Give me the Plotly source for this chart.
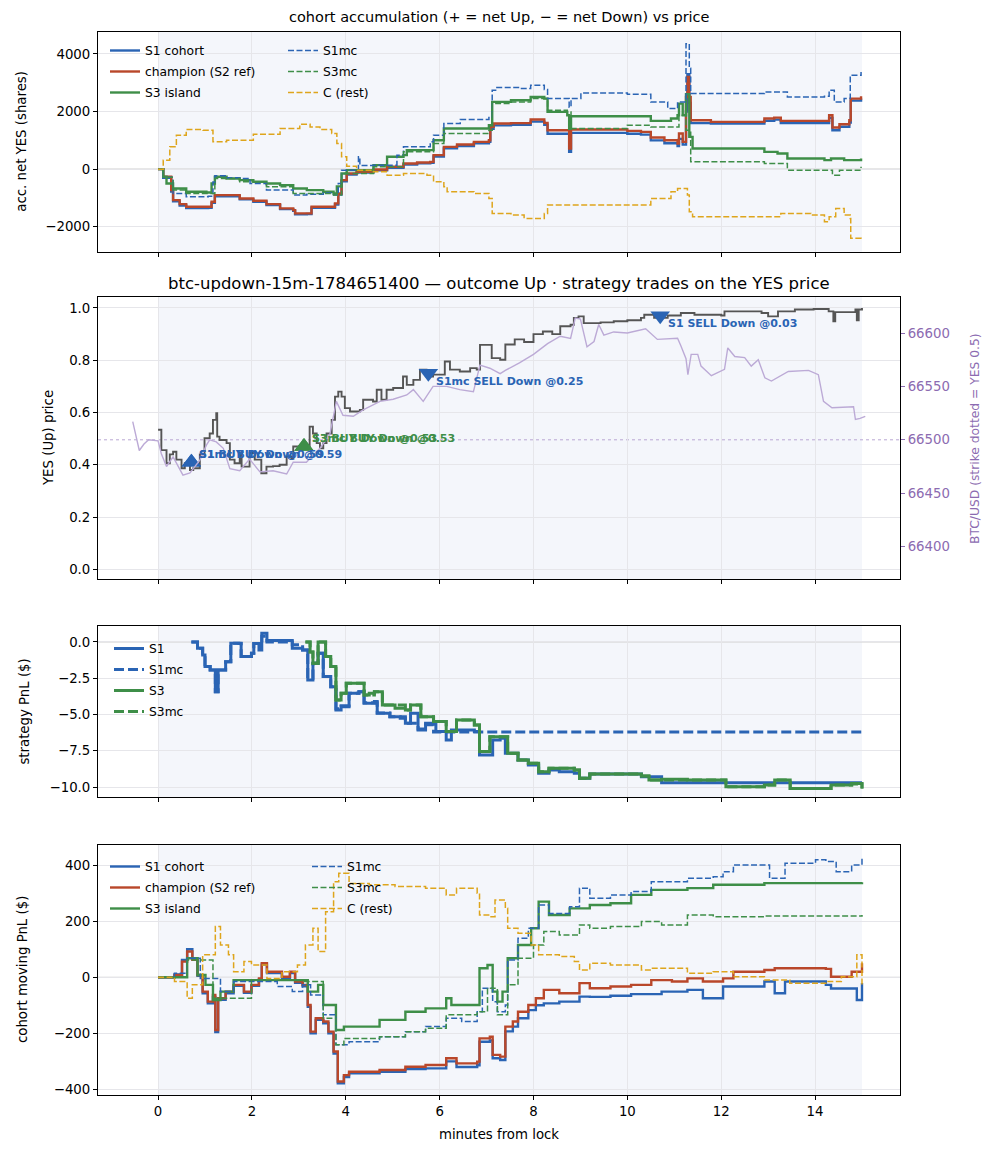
import plotly.graph_objects as go

# ---------------- data (minutes from lock, value) ----------------
# panel 1: accumulated net YES shares
acc_s1 = [(0, 0), (0.11, -300), (0.28, -780), (0.32, -1120), (0.46, -1260), (0.6, -1350), (1.07, -1340),
          (1.14, -1170), (1.21, -940), (1.46, -940), (1.74, -1050), (2.03, -1130), (2.31, -1250), (2.6, -1390),
          (2.88, -1450), (2.92, -1570), (3.17, -1560), (3.27, -1340), (3.52, -1340), (3.77, -1230), (3.84, -880),
          (3.91, -420), (4.02, -190), (4.23, -120), (4.59, -40), (4.88, 50), (5.23, 160), (5.52, 200), (5.8, 220),
          (5.87, 440), (6.09, 720), (6.37, 800), (6.73, 900), (7.05, 950), (7.08, 1400), (7.15, 1520), (7.52, 1540),
          (7.94, 1650), (8.23, 1540), (8.3, 1230), (8.72, 1230), (8.76, 600), (8.8, 1260), (10.0, 1230),
          (10.29, 1200), (10.5, 1000), (10.79, 900), (11.07, 800), (11.1, 1050), (11.18, 850), (11.25, 2000),
          (11.28, 3300), (11.32, 2300), (11.35, 1600), (11.78, 1580), (12.92, 1680), (13.13, 1720), (13.27, 1600),
          (14.2, 1600), (14.3, 1780), (14.37, 1350), (14.52, 1470), (14.73, 1620), (14.76, 2380), (14.98, 2450)]
acc_champion = [(0, 0), (0.11, -266), (0.28, -728), (0.32, -1075), (0.46, -1214), (0.6, -1306), (1.07, -1306),
                (1.14, -1133), (1.21, -902), (1.46, -902), (1.74, -1017), (2.03, -1098), (2.31, -1214),
                (2.6, -1364), (2.88, -1422), (2.92, -1537), (3.17, -1537), (3.27, -1306), (3.52, -1306),
                (3.77, -1190), (3.84, -844), (3.91, -381), (4.02, -150), (4.23, -92), (4.59, -12), (4.88, 81),
                (5.23, 197), (5.52, 231), (5.8, 254), (5.87, 486), (6.09, 775), (6.37, 855), (6.73, 948),
                (7.05, 1006), (7.08, 1468), (7.15, 1584), (7.52, 1600), (7.94, 1722), (8.23, 1607), (8.3, 1352),
                (8.72, 1352), (8.76, 717), (8.8, 1375), (10.0, 1329), (10.29, 1295), (10.5, 1098), (10.79, 1006),
                (11.07, 890), (11.1, 1237), (11.18, 948), (11.25, 2508), (11.28, 3202), (11.32, 2508),
                (11.35, 1700), (11.78, 1641), (12.92, 1757), (13.13, 1791), (13.27, 1676), (14.2, 1676),
                (14.3, 1873), (14.37, 1445), (14.52, 1560), (14.73, 1700), (14.76, 2450), (14.98, 2530)]
acc_s3 = [(0, 0), (0.11, -266), (0.18, -497), (0.32, -670), (0.6, -786), (1.03, -809), (1.14, -497),
          (1.21, -266), (1.46, -324), (1.74, -381), (2.03, -439), (2.31, -497), (2.6, -555), (2.88, -670),
          (3.17, -728), (3.52, -786), (3.74, -844), (3.81, -600), (3.91, -150), (4.02, -35), (4.59, 139),
          (4.88, 428), (5.23, 486), (5.3, 659), (5.87, 1006), (6.09, 1410), (7.05, 1526), (7.12, 2335),
          (7.52, 2393), (7.94, 2508), (8.23, 2450), (8.3, 1988), (8.72, 1873), (8.76, 1400), (8.8, 1838),
          (10.0, 1838), (10.5, 1676), (10.93, 1757), (11.07, 1873), (11.1, 2277), (11.18, 1873), (11.25, 2600),
          (11.32, 1121), (11.39, 717), (12.92, 601), (13.2, 543), (13.41, 370), (14.2, 312), (14.34, 370),
          (14.62, 312), (14.98, 370)]
acc_s1mc = [(0, 0), (0.11, -280), (0.32, -844), (0.6, -960), (1.07, -940), (1.17, -450), (1.21, -231),
            (1.46, -300), (1.74, -324), (1.96, -497), (2.31, -728), (2.88, -902), (3.17, -870), (3.52, -820),
            (3.74, -902), (3.84, -497), (3.91, -35), (4.27, 428), (4.3, 130), (4.59, 139), (5.09, 486),
            (5.23, 775), (5.8, 948), (5.87, 1180), (6.09, 1584), (6.44, 1722), (7.05, 1791), (7.12, 2740),
            (7.22, 2832), (7.72, 2797), (7.94, 2913), (8.23, 2763), (8.3, 2450), (8.72, 2450), (8.76, 2150),
            (8.8, 2450), (9.01, 2647), (10.0, 2600), (10.5, 2335), (10.86, 2104), (11.07, 2335), (11.25, 4358),
            (11.32, 3500), (11.35, 2624), (12.92, 2682), (13.41, 2508), (14.2, 2532), (14.3, 2740),
            (14.41, 2335), (14.62, 2450), (14.75, 3260), (14.98, 3375)]
acc_s3mc = [(0, 0), (0.11, -280), (0.32, -728), (0.6, -844), (1.03, -844), (1.21, -324), (1.74, -439),
            (2.31, -613), (2.88, -844), (3.17, -844), (3.74, -902), (3.91, -150), (4.59, 81), (5.23, 601),
            (5.87, 890), (6.09, 1237), (7.05, 1352), (7.12, 2277), (7.52, 2335), (7.94, 2450), (8.3, 2046),
            (8.72, 1988), (8.8, 1410), (10.0, 1526), (10.5, 1468), (11.07, 1468), (11.1, 1873), (11.25, 1352),
            (11.35, 254), (12.92, 197), (13.41, -35), (14.2, -35), (14.37, -208), (14.52, -35), (14.98, 81)]
acc_rest = [(0, 0), (0.11, 312), (0.25, 775), (0.39, 1179), (0.6, 1375), (0.96, 1352), (1.17, 948),
            (1.46, 1006), (2.03, 1214), (2.6, 1410), (3.02, 1560), (3.24, 1468), (3.45, 1375), (3.7, 1237),
            (3.81, 890), (3.91, 428), (4.02, 104), (4.23, -35), (4.59, -92), (4.88, -208), (5.23, -150),
            (5.73, -208), (5.87, -439), (6.09, -613), (6.16, -786), (6.73, -844), (7.05, -1017), (7.12, -1537),
            (7.52, -1595), (7.8, -1711), (8.23, -1537), (8.3, -1248), (10.0, -1248), (10.5, -1017),
            (10.93, -786), (11.07, -670), (11.28, -900), (11.32, -1480), (11.39, -1653), (12.92, -1653),
            (13.27, -1537), (13.91, -1595), (14.2, -1826), (14.3, -1653), (14.44, -1364), (14.62, -1595),
            (14.75, -1711), (14.76, -2404), (14.98, -2462)]

# panel 2: YES (Up) price and BTC/USD
yes_price = [(0, 0.534), (0.07, 0.456), (0.18, 0.406), (0.25, 0.44), (0.32, 0.45), (0.39, 0.42), (0.5, 0.387),
             (0.57, 0.406), (0.68, 0.38), (0.75, 0.387), (0.89, 0.44), (0.99, 0.502), (1.1, 0.52), (1.17, 0.572),
             (1.24, 0.597), (1.26, 0.508), (1.31, 0.495), (1.46, 0.483), (1.53, 0.42), (1.63, 0.406),
             (1.74, 0.445), (1.78, 0.393), (1.95, 0.445), (2.06, 0.42), (2.2, 0.368), (2.31, 0.393),
             (2.45, 0.395), (2.59, 0.40), (2.74, 0.432), (2.84, 0.425), (2.88, 0.47), (3.16, 0.47), (3.23, 0.546),
             (3.3, 0.52), (3.38, 0.483), (3.45, 0.463), (3.52, 0.483), (3.59, 0.52), (3.7, 0.572), (3.77, 0.661),
             (3.84, 0.68), (3.91, 0.661), (3.98, 0.617), (4.09, 0.604), (4.3, 0.61), (4.37, 0.649), (4.51, 0.649),
             (4.58, 0.642), (4.66, 0.687), (4.76, 0.649), (4.87, 0.687), (5.01, 0.694), (5.22, 0.738),
             (5.3, 0.706), (5.44, 0.725), (5.58, 0.764), (5.72, 0.738), (5.86, 0.745), (6.11, 0.795),
             (6.22, 0.764), (6.43, 0.757), (6.65, 0.77), (6.79, 0.764), (6.86, 0.859), (7.07, 0.859),
             (7.11, 0.808), (7.29, 0.802), (7.4, 0.86), (7.6, 0.88), (7.8, 0.87), (8.0, 0.9), (8.2, 0.91),
             (8.4, 0.9), (8.57, 0.93), (8.79, 0.936), (8.86, 0.962), (8.96, 0.968), (9.07, 0.942), (9.43, 0.945),
             (9.71, 0.949), (10.0, 0.953), (10.29, 0.962), (10.36, 0.974), (10.57, 0.962), (10.86, 0.971),
             (11.14, 0.981), (11.43, 0.974), (12.0, 0.971), (12.07, 0.987), (12.86, 0.981), (13.0, 0.968),
             (13.21, 0.987), (13.57, 0.994), (13.97, 0.996), (14.29, 0.987), (14.39, 0.949), (14.43, 0.984),
             (14.86, 0.994), (14.89, 0.953), (14.93, 0.994), (15.0, 1.0)]
btc_usd = [(-0.54, 66517), (-0.48, 66505), (-0.4, 66490), (-0.3, 66496), (-0.2, 66500), (0.0, 66499),
           (0.07, 66487), (0.18, 66475), (0.32, 66484), (0.53, 66467), (0.68, 66469), (0.89, 66481),
           (1.03, 66495), (1.1, 66500), (1.24, 66498), (1.39, 66492), (1.53, 66473), (1.74, 66471),
           (1.95, 66482), (2.17, 66470), (2.45, 66471), (2.74, 66468), (2.88, 66479), (3.16, 66479),
           (3.45, 66492), (3.66, 66505), (3.8, 66536), (3.94, 66523), (4.16, 66522), (4.37, 66528),
           (4.58, 66533), (4.73, 66536), (5.01, 66538), (5.3, 66542), (5.44, 66547), (5.65, 66536),
           (5.86, 66550), (6.15, 66550), (6.43, 66547), (6.72, 66545), (6.86, 66570), (7.07, 66567),
           (7.29, 66562), (7.4, 66565), (7.7, 66572), (8.0, 66580), (8.3, 66590), (8.57, 66597), (8.79, 66595),
           (8.89, 66614), (9.0, 66613), (9.07, 66599), (9.14, 66587), (9.29, 66592), (9.39, 66608), (9.5, 66598),
           (9.71, 66601), (10.0, 66600), (10.29, 66603), (10.39, 66604), (10.64, 66594), (11.07, 66595),
           (11.14, 66588), (11.25, 66576), (11.29, 66561), (11.36, 66580), (11.5, 66580), (11.57, 66569),
           (11.79, 66560), (12.07, 66566), (12.14, 66586), (12.29, 66578), (12.5, 66577), (12.64, 66569),
           (12.79, 66575), (12.93, 66558), (13.07, 66555), (13.43, 66564), (13.86, 66565), (14.07, 66561),
           (14.18, 66536), (14.36, 66530), (14.82, 66531), (14.86, 66519), (14.96, 66520), (15.07, 66522)]
strike = 66500

# strategy trades (minute, Down price paid, label)
trade_minute = [0.71, 0.71, 3.11, 3.11, 5.76, 10.7]
trade_down_price = [0.59, 0.59, 0.53, 0.53, 0.25, 0.03]
trade_strategy = ["S1", "S1mc", "S3", "S3mc", "S1mc", "S1"]
trade_side = ["BUY", "BUY", "BUY", "BUY", "SELL", "SELL"]

# panel 3: strategy PnL ($)
pnl_s1 = [(0.71, 0), (0.84, -0.44), (0.95, -0.9), (1.0, -1.7), (1.11, -1.93), (1.22, -3.43), (1.28, -1.93),
          (1.44, -1.36), (1.55, -0.09), (1.72, -0.1), (1.77, -1.0), (1.99, -0.78), (2.04, -0.1), (2.15, -0.55),
          (2.21, 0.6), (2.32, 0.1), (2.86, -0.44), (3.08, -0.55), (3.19, -2.62), (3.3, -1.47), (3.41, -0.78),
          (3.52, -2.39), (3.68, -3.08), (3.79, -4.69), (3.9, -4.46), (4.07, -3.54), (4.28, -3.43), (4.39, -4.23),
          (4.61, -4.11), (4.67, -4.92), (4.94, -5.15), (5.16, -5.26), (5.27, -5.61), (5.38, -4.92),
          (5.54, -6.07), (5.7, -5.61), (5.92, -6.18), (6.14, -6.76), (6.25, -6.07), (6.58, -6.07),
          (6.74, -6.18), (6.85, -7.79), (7.07, -7.79), (7.13, -6.76), (7.29, -6.64), (7.4, -7.68),
          (7.67, -8.14), (7.89, -8.48), (8.11, -9.06), (8.33, -8.83), (8.55, -8.94), (8.87, -9.06),
          (8.98, -9.4), (9.2, -9.1), (10.3, -9.29), (10.73, -9.7), (15.0, -9.7)]
pnl_s1mc = [(0.71, 0), (0.84, -0.44), (0.95, -0.9), (1.0, -1.7), (1.11, -1.93), (1.22, -3.43), (1.28, -1.93),
            (1.44, -1.36), (1.55, -0.09), (1.77, -1.0), (1.99, -0.78), (2.04, -0.1), (2.21, 0.4), (2.32, 0.0),
            (2.86, -0.2), (3.08, -0.55), (3.19, -2.5), (3.3, -1.47), (3.41, -0.78), (3.52, -2.39), (3.68, -3.08),
            (3.79, -4.6), (3.9, -4.4), (4.07, -3.54), (4.28, -3.43), (4.39, -4.2), (4.67, -4.9), (4.94, -5.15),
            (5.27, -5.6), (5.54, -6.0), (5.7, -5.7), (5.87, -6.21), (15.0, -6.21)]
pnl_s3 = [(3.14, 0), (3.24, -0.69), (3.3, -1.47), (3.41, 0), (3.52, 0), (3.57, -1.01), (3.68, -1.7),
          (3.79, -4.0), (3.9, -3.54), (4.01, -2.85), (4.28, -2.85), (4.39, -3.66), (4.5, -3.54), (4.61, -3.43),
          (4.78, -4.34), (5.05, -4.57), (5.27, -4.69), (5.38, -4.34), (5.6, -5.15), (5.87, -5.49),
          (6.14, -6.18), (6.36, -5.38), (6.74, -5.72), (6.85, -7.56), (7.07, -6.53), (7.29, -6.53),
          (7.45, -7.68), (7.67, -8.14), (7.89, -8.37), (8.11, -8.94), (8.33, -8.71), (8.87, -8.83),
          (8.98, -9.4), (9.2, -9.1), (10.3, -9.24), (10.46, -9.52), (10.73, -9.47), (11.28, -9.52),
          (12.1, -9.98), (12.92, -9.86), (13.14, -9.52), (13.47, -10.1), (14.02, -10.1), (14.34, -9.86),
          (14.78, -9.75), (15.0, -10.1)]
pnl_s3mc = [(3.14, 0), (3.24, -0.69), (3.3, -1.47), (3.41, 0), (3.52, 0), (3.57, -1.01), (3.68, -1.7),
            (3.79, -4.0), (3.9, -3.54), (4.01, -2.85), (4.28, -2.85), (4.39, -3.66), (4.61, -3.43),
            (4.78, -4.34), (5.27, -4.69), (5.38, -4.34), (5.6, -5.15), (5.87, -5.49), (6.14, -6.18),
            (6.36, -5.38), (6.74, -5.72), (6.85, -7.56), (7.07, -6.53), (7.29, -6.53), (7.45, -7.68),
            (7.67, -8.14), (7.89, -8.37), (8.11, -8.94), (8.33, -8.71), (8.87, -8.83), (8.98, -9.4),
            (9.2, -9.1), (10.3, -9.24), (10.46, -9.52), (11.28, -9.52), (12.1, -9.98), (12.92, -9.86),
            (13.14, -9.52), (13.47, -10.1), (14.34, -9.86), (14.78, -9.8), (15.0, -10.1)]

# panel 4: cohort moving PnL ($)
mpnl_s1 = [(0, 0), (0.35, 10), (0.51, 62), (0.62, 100), (0.73, 68), (0.84, 5), (0.95, -57), (1.06, -93),
           (1.17, -70), (1.22, -195), (1.28, -80), (1.44, -57), (1.61, -30), (1.83, -55), (1.99, -30),
           (2.15, -8), (2.21, 45), (2.32, 15), (2.64, -2), (2.81, 15), (2.92, -20), (3.08, -32), (3.19, -105),
           (3.25, -200), (3.36, -152), (3.52, -164), (3.63, -200), (3.74, -272), (3.83, -378), (3.96, -356),
           (4.07, -343), (4.72, -337), (5.27, -327), (5.7, -325), (6.14, -300), (6.36, -320), (6.8, -314),
           (6.85, -230), (7.07, -225), (7.13, -289), (7.29, -295), (7.4, -193), (7.56, -176), (7.67, -146),
           (7.89, -117), (8.05, -100), (8.22, -93), (8.55, -87), (8.98, -69), (9.2, -70), (9.64, -66),
           (10.08, -60), (10.73, -51), (11.28, -45), (11.61, -75), (12.04, -33), (12.92, -15), (13.14, -57),
           (13.36, -15), (14.23, -27), (14.34, -40), (14.89, -81), (15.0, -20)]
mpnl_champion = [(0, 0), (0.35, 8), (0.51, 56), (0.62, 92), (0.73, 62), (0.84, 8), (0.95, -51), (1.06, -87),
                 (1.17, -63), (1.22, -188), (1.28, -75), (1.44, -51), (1.61, -27), (1.83, -51), (1.99, -27),
                 (2.15, -4), (2.21, 50), (2.32, 20), (2.64, 2), (2.81, 20), (2.92, -15), (3.08, -27),
                 (3.19, -99), (3.25, -194), (3.36, -146), (3.52, -158), (3.63, -194), (3.74, -265),
                 (3.83, -372), (3.96, -349), (4.07, -337), (4.72, -331), (5.27, -319), (5.7, -313),
                 (6.14, -289), (6.36, -307), (6.8, -301), (6.85, -218), (7.07, -212), (7.13, -277),
                 (7.29, -283), (7.4, -176), (7.56, -158), (7.67, -123), (7.89, -99), (8.05, -75), (8.22, -45),
                 (8.55, -57), (8.98, -21), (9.2, -39), (9.64, -33), (10.08, -27), (10.51, -10), (10.95, -15),
                 (11.28, -4), (11.61, -15), (12.04, -4), (12.26, 20), (12.92, 26), (13.14, 32), (14.23, 30),
                 (14.34, 2), (14.78, 20), (15.0, 50)]
mpnl_s3 = [(0, 0), (0.62, 68), (0.84, 8), (1.01, -27), (1.17, -81), (1.33, -51), (1.61, -10), (3.08, -10),
           (3.19, -51), (3.41, -27), (3.52, -99), (3.79, -188), (3.96, -176), (4.72, -152), (5.27, -123),
           (5.7, -111), (6.14, -75), (6.25, -99), (6.8, -99), (6.85, 32), (7.02, 44), (7.13, -51), (7.23, -87),
           (7.34, -51), (7.45, 68), (7.67, 115), (7.95, 175), (8.11, 270), (8.33, 222), (8.77, 246), (9.2, 258),
           (9.64, 264), (10.08, 294), (10.51, 312), (11.28, 318), (11.83, 330), (12.92, 336), (14.01, 336),
           (15.0, 339)]
mpnl_s1mc = [(0, 0), (0.35, 14), (0.62, 68), (0.9, -4), (1.33, -51), (1.61, -15), (1.99, -15), (2.54, -33),
             (2.86, -51), (3.08, -27), (3.25, -63), (3.52, -134), (3.79, -241), (4.07, -230), (4.72, -212),
             (5.27, -194), (5.7, -176), (6.14, -146), (6.47, -158), (6.8, -123), (6.91, -39), (7.13, -87),
             (7.23, -123), (7.4, -99), (7.45, 62), (7.67, 139), (7.89, 175), (8.11, 258), (8.33, 228),
             (8.77, 252), (8.98, 318), (9.2, 282), (9.64, 294), (10.08, 306), (10.51, 341), (11.28, 353),
             (11.83, 359), (12.04, 377), (12.26, 401), (12.92, 401), (13.03, 353), (13.36, 407), (14.01, 419),
             (14.23, 413), (14.45, 377), (14.78, 401), (15.0, 431)]
mpnl_s3mc = [(0, 0), (0.62, 62), (1.17, -75), (1.99, -10), (3.08, -15), (3.52, -146), (3.79, -241),
             (3.96, -218), (4.72, -212), (5.27, -194), (5.7, -182), (6.14, -134), (6.8, -123), (7.02, -39),
             (7.23, -134), (7.45, -27), (7.67, 68), (8.0, 115), (8.22, 163), (8.55, 151), (8.98, 187),
             (9.2, 175), (9.64, 181), (10.3, 199), (10.73, 187), (11.28, 222), (11.83, 216), (12.92, 219),
             (15.0, 222)]
mpnl_rest = [(0, 0), (0.35, -15), (0.62, -75), (0.73, -27), (0.95, 80), (1.22, 181), (1.33, 115), (1.5, 80),
             (1.61, 20), (1.83, 56), (1.99, 44), (2.32, -4), (2.64, 20), (2.97, 44), (3.14, 115), (3.3, 175),
             (3.41, 92), (3.57, 234), (3.74, 341), (3.85, 371), (4.07, 335), (4.5, 330), (5.05, 324), (5.7, 318),
             (6.14, 294), (6.36, 318), (6.8, 300), (6.85, 222), (7.07, 216), (7.18, 276), (7.4, 246),
             (7.45, 175), (7.67, 157), (7.95, 115), (8.11, 80), (8.55, 74), (8.87, 56), (8.98, 26), (9.2, 50),
             (9.64, 44), (10.3, 26), (10.51, 32), (11.28, 14), (11.83, 20), (12.26, 2), (12.92, -10),
             (13.46, -21), (14.23, -15), (14.56, 2), (14.89, 80), (15.0, -27)]

window = (0, 15)

# ---------------- styling ----------------
BLUE = "#2a64b4"
RED = "#b9472a"
GREEN = "#3e8e48"
YELLOW = "#dea51c"
GRAY = "#555555"
BTC = "#bcaad6"
PURPLE = "#8c6bb1"
GRID = "#e6e6ea"
FONT = "DejaVu Sans"
DASH = "6px,2.5px"
STRAT_COLOR = {"S1": BLUE, "S1mc": BLUE, "S3": GREEN, "S3mc": GREEN}

W, H = 993, 1156
MT, MB = 32, 61
PLOT_H = H - MT - MB


def dom(top_px, bot_px):
    return [(H - MB - bot_px) / PLOT_H, (H - MB - top_px) / PLOT_H]


def xs(pts):
    return [p[0] for p in pts]


def ys(pts):
    return [p[1] for p in pts]


fig = go.Figure()


def step(pts, name, color, width, dash, xa, ya, legend, showlegend=True):
    fig.add_trace(go.Scatter(
        x=xs(pts), y=ys(pts), mode="lines", name=name, line_shape="hv",
        line=dict(color=color, width=width, dash=dash), xaxis=xa, yaxis=ya,
        legend=legend, legendgroup=legend + name, showlegend=showlegend))


# panel 1
step(acc_s1, "S1 cohort", BLUE, 2.4, "solid", "x", "y", "legend")
step(acc_champion, "champion (S2 ref)", RED, 2.4, "solid", "x", "y", "legend")
step(acc_s3, "S3 island", GREEN, 2.4, "solid", "x", "y", "legend")
step(acc_s1mc, "S1mc", BLUE, 1.5, DASH, "x", "y", "legend2")
step(acc_s3mc, "S3mc", GREEN, 1.5, DASH, "x", "y", "legend2")
step(acc_rest, "C (rest)", YELLOW, 1.5, DASH, "x", "y", "legend2")

# panel 2
fig.add_trace(go.Scatter(x=xs(btc_usd), y=ys(btc_usd), mode="lines", line=dict(color=BTC, width=1.4),
                         xaxis="x2", yaxis="y5", showlegend=False, name="BTC/USD"))
fig.add_trace(go.Scatter(x=xs(yes_price), y=ys(yes_price), mode="lines", line_shape="hv",
                         line=dict(color=GRAY, width=1.9), xaxis="x2", yaxis="y2", showlegend=False,
                         name="YES"))
for side, symbol in (("BUY", "triangle-up"), ("SELL", "triangle-down")):
    idx = [i for i, s in enumerate(trade_side) if s == side]
    fig.add_trace(go.Scatter(
        x=[trade_minute[i] for i in idx], y=[1 - trade_down_price[i] for i in idx], mode="markers",
        marker=dict(symbol=symbol, size=17, color=[STRAT_COLOR[trade_strategy[i]] for i in idx],
                    line=dict(width=0)),
        xaxis="x2", yaxis="y2", showlegend=False, name=side))

# panel 3
step(pnl_s1, "S1", BLUE, 3, "solid", "x3", "y3", "legend3")
step(pnl_s1mc, "S1mc", BLUE, 3, "10px,4px", "x3", "y3", "legend3")
step(pnl_s3, "S3", GREEN, 3, "solid", "x3", "y3", "legend3")
step(pnl_s3mc, "S3mc", GREEN, 3, "10px,4px", "x3", "y3", "legend3")

# panel 4
step(mpnl_s1, "S1 cohort", BLUE, 2.4, "solid", "x4", "y4", "legend4")
step(mpnl_champion, "champion (S2 ref)", RED, 2.4, "solid", "x4", "y4", "legend4")
step(mpnl_s3, "S3 island", GREEN, 2.4, "solid", "x4", "y4", "legend4")
step(mpnl_s1mc, "S1mc", BLUE, 1.5, DASH, "x4", "y4", "legend5")
step(mpnl_s3mc, "S3mc", GREEN, 1.5, DASH, "x4", "y4", "legend5")
step(mpnl_rest, "C (rest)", YELLOW, 1.5, DASH, "x4", "y4", "legend5")

# ---------------- axes ----------------
tickfont = dict(family=FONT, size=13.3, color="black")
xbase = dict(range=[-1.28, 15.81], tick0=0, dtick=2, showgrid=True, gridcolor=GRID, gridwidth=0.8,
             zeroline=False, showline=True, linecolor="black", linewidth=1.1, mirror=True,
             ticks="outside", ticklen=4, tickcolor="black", tickfont=tickfont)
ybase = dict(showgrid=True, gridcolor=GRID, gridwidth=0.8, zeroline=False, showline=True,
             linecolor="black", linewidth=1.1, mirror=True, ticks="outside", ticklen=4,
             tickcolor="black", tickfont=tickfont)

fig.update_layout(
    xaxis=dict(xbase, anchor="y", showticklabels=False),
    xaxis2=dict(xbase, anchor="y2", showticklabels=False),
    xaxis3=dict(xbase, anchor="y3", showticklabels=False),
    xaxis4=dict(xbase, anchor="y4",
                title=dict(text="minutes from lock", font=dict(family=FONT, size=13.3), standoff=11)),
    yaxis=dict(ybase, domain=dom(32, 251.7), range=[-2867, 4763], tickvals=[-2000, 0, 2000, 4000],
               anchor="x"),
    yaxis2=dict(ybase, domain=dom(297, 579.3), range=[-0.038, 1.042], dtick=0.2, tick0=0,
                tickformat=".1f", anchor="x2"),
    yaxis5=dict(overlaying="y2", anchor="x2", side="right", range=[66369.4, 66633.7],
                tickvals=[66400, 66450, 66500, 66550, 66600], tickformat="d", showgrid=False,
                zeroline=False, showline=False, ticks="outside", ticklen=4, tickcolor=PURPLE,
                tickfont=dict(family=FONT, size=13.3, color=PURPLE)),
    yaxis3=dict(ybase, domain=dom(626, 797.3), range=[-10.71, 1.10], dtick=2.5, tick0=0,
                tickformat=".1f", anchor="x3"),
    yaxis4=dict(ybase, domain=dom(845, 1095), range=[-420, 472], dtick=200, tick0=0, anchor="x4"),
)

# ---------------- shapes: lock window shading, zero lines, strike ----------------
shapes = []
for xa, ya in (("x", "y"), ("x2", "y2"), ("x3", "y3"), ("x4", "y4")):
    shapes.append(dict(type="rect", xref=xa, yref=ya + " domain", x0=window[0], x1=window[1], y0=0, y1=1,
                       fillcolor="#f4f6fb", line=dict(width=0), layer="below"))
for xa, ya in (("x", "y"), ("x3", "y3"), ("x4", "y4")):
    shapes.append(dict(type="line", xref=xa + " domain", yref=ya, x0=0, x1=1, y0=0, y1=0,
                       line=dict(color="#cfcfcf", width=1.1), layer="below"))
shapes.append(dict(type="line", xref="x2 domain", yref="y5", x0=0, x1=1, y0=strike, y1=strike,
                   line=dict(color="#b9a7d3", width=1, dash="dot"), layer="below"))
fig.update_layout(shapes=shapes)

# ---------------- text ----------------
ann = []
for i in range(len(trade_minute)):
    buy = trade_side[i] == "BUY"
    ann.append(dict(x=trade_minute[i], y=1 - trade_down_price[i], xref="x2", yref="y2",
                    text=f"<b>{trade_strategy[i]} {trade_side[i]} Down @{trade_down_price[i]:.2f}</b>",
                    showarrow=False, xanchor="left", yanchor="middle", xshift=6, yshift=8 if buy else -8,
                    font=dict(family=FONT, size=11, color=STRAT_COLOR[trade_strategy[i]])))


def px_x(px):
    return (px - 98) / (900 - 98)


def px_y(py):
    return (H - MB - py) / PLOT_H


ann += [
    dict(text="cohort accumulation (+ = net Up, − = net Down) vs price", x=0.5, y=px_y(17), xref="paper",
         yref="paper", showarrow=False, xanchor="center", yanchor="middle",
         font=dict(family=FONT, size=14.5, color="black")),
    dict(text="btc-updown-15m-1784651400 — outcome Up · strategy trades on the YES price", x=0.5,
         y=px_y(283), xref="paper", yref="paper", showarrow=False, xanchor="center", yanchor="middle",
         font=dict(family=FONT, size=16.5, color="black")),
    dict(text="acc. net YES (shares)", x=px_x(22), y=px_y(141.7), xref="paper", yref="paper",
         showarrow=False, textangle=-90, xanchor="center", yanchor="middle",
         font=dict(family=FONT, size=13.3, color="black")),
    dict(text="YES (Up) price", x=px_x(48), y=px_y(438), xref="paper", yref="paper",
         showarrow=False, textangle=-90, xanchor="center", yanchor="middle",
         font=dict(family=FONT, size=13.3, color="black")),
    dict(text="BTC/USD (strike dotted = YES 0.5)", x=px_x(975), y=px_y(438), xref="paper", yref="paper",
         showarrow=False, textangle=-90, xanchor="center", yanchor="middle",
         font=dict(family=FONT, size=12.3, color=PURPLE)),
    dict(text="strategy PnL ($)", x=px_x(25), y=px_y(711.6), xref="paper", yref="paper",
         showarrow=False, textangle=-90, xanchor="center", yanchor="middle",
         font=dict(family=FONT, size=13.3, color="black")),
    dict(text="cohort moving PnL ($)", x=px_x(22), y=px_y(970), xref="paper", yref="paper",
         showarrow=False, textangle=-90, xanchor="center", yanchor="middle",
         font=dict(family=FONT, size=13.3, color="black")),
]
fig.update_layout(annotations=ann)

# ---------------- legends ----------------
leg = dict(bgcolor="rgba(0,0,0,0)", borderwidth=0, font=dict(family=FONT, size=12.3, color="black"),
           xanchor="left", yanchor="top", tracegroupgap=2, itemwidth=30, orientation="v")
fig.update_layout(
    legend=dict(leg, x=px_x(105), y=px_y(36)),
    legend2=dict(leg, x=px_x(283), y=px_y(36)),
    legend3=dict(leg, x=px_x(109), y=px_y(634)),
    legend4=dict(leg, x=px_x(105), y=px_y(852)),
    legend5=dict(leg, x=px_x(307), y=px_y(852)),
)

fig.update_layout(
    width=W, height=H, margin=dict(l=98, r=93, t=MT, b=MB),
    paper_bgcolor="white", plot_bgcolor="white",
    font=dict(family=FONT, size=13.3, color="black"),
)

# drop the page's default body margin so the figure sits at the window origin
fig.write_html("out.html", config={"displayModeBar": False},
               post_script="document.body.style.margin='0';")
